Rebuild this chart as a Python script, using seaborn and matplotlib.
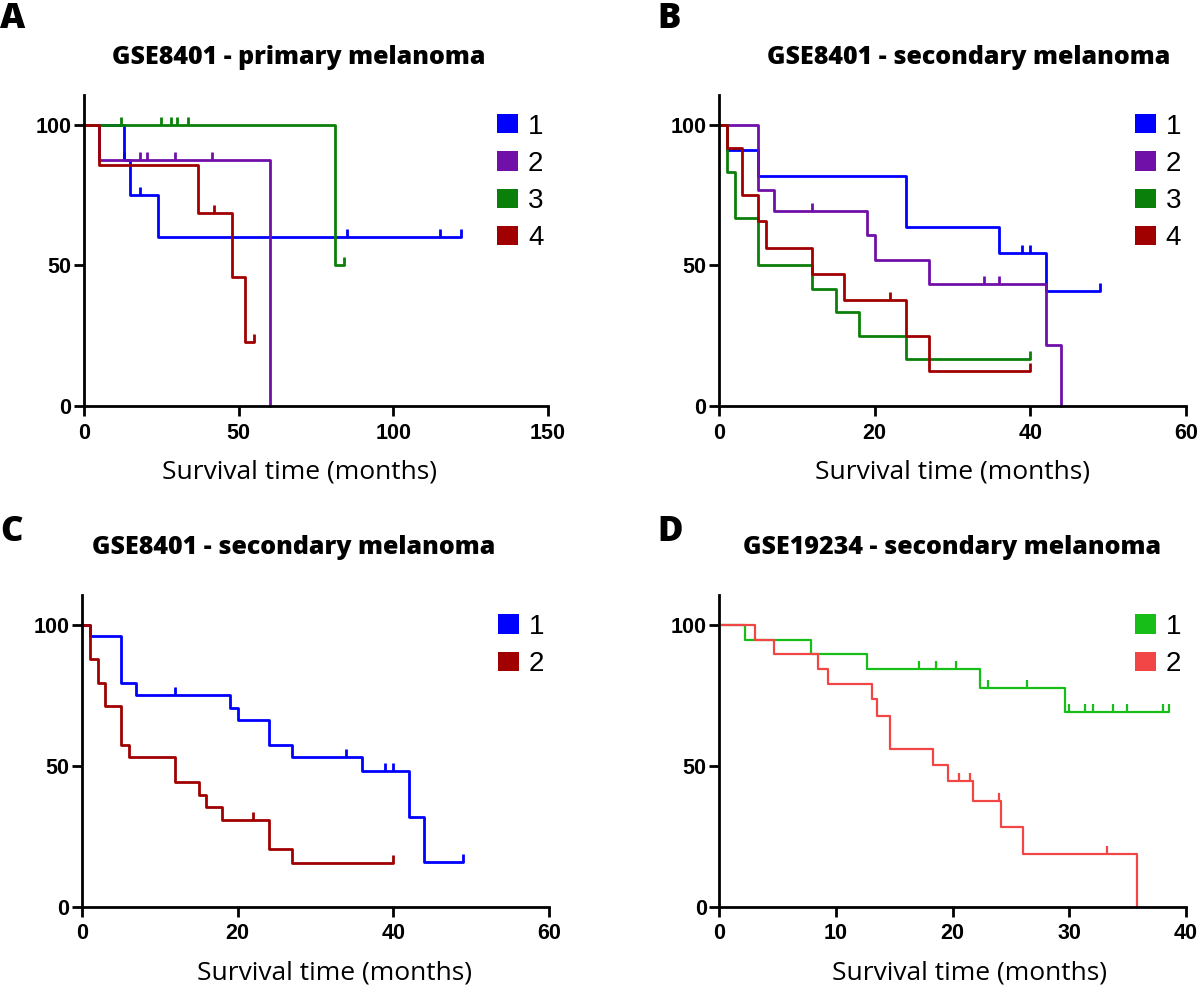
import numpy as np
import seaborn as sns
import matplotlib.pyplot as plt
from matplotlib.patches import Patch
from matplotlib.path import Path


# panel A - GSE8401 primary melanoma
a1_t = [0, 13, 15, 24, 122]
a1_s = [100, 87.5, 75, 60, 60]
a1_c = [13, 18, 85, 115, 122]
a2_t = [0, 5, 60]
a2_s = [100, 87.5, 0]
a2_c = [5, 18, 20.5, 29.5, 41.5]
a3_t = [0, 81, 84]
a3_s = [100, 50, 50]
a3_c = [12, 25, 28, 30, 33.5, 84]
a4_t = [0, 5, 37, 48, 52, 55]
a4_s = [100, 85.7, 68.6, 45.7, 22.9, 22.9]
a4_c = [42, 55]

# panel B - GSE8401 secondary melanoma, 4 groups
b1_t = [0, 1, 5, 24, 36, 42, 49]
b1_s = [100, 90.9, 81.8, 63.6, 54.5, 40.9, 40.9]
b1_c = [39, 40, 49]
b2_t = [0, 5, 7, 19, 20, 27, 42, 44]
b2_s = [100, 76.9, 69.2, 60.6, 51.9, 43.3, 21.6, 0]
b2_c = [12, 34, 36]
b3_t = [0, 1, 2, 5, 12, 15, 18, 24, 40]
b3_s = [100, 83.3, 66.7, 50, 41.7, 33.3, 25, 16.7, 16.7]
b3_c = [40]
b4_t = [0, 1, 3, 5, 6, 12, 16, 24, 27, 40]
b4_s = [100, 91.7, 75, 65.6, 56.3, 46.9, 37.5, 25, 12.5, 12.5]
b4_c = [22, 40]

# panel C - GSE8401 secondary melanoma, 2 groups
c1_t = [0, 1, 5, 7, 19, 20, 24, 27, 36, 42, 44, 49]
c1_s = [100, 95.8, 79.2, 75, 70.6, 66.2, 57.4, 52.9, 48.1, 31.7, 15.8, 15.8]
c1_c = [12, 34, 39, 40, 49]
c2_t = [0, 1, 2, 3, 5, 6, 12, 15, 16, 18, 24, 27, 40]
c2_s = [100, 87.8, 79.3, 71, 57.4, 52.9, 44.1, 39.7, 35.3, 30.9, 20.6, 15.4, 15.4]
c2_c = [22, 40]

# panel D - GSE19234 secondary melanoma
d1_t = [0, 2.2, 7.9, 12.7, 22.3, 29.6, 38.5]
d1_s = [100, 94.7, 89.5, 84.2, 77.7, 69.1, 69.1]
d1_c = [17.1, 18.6, 20.3, 23.0, 26.4, 30.0, 31.3, 32.0, 33.7, 34.9, 38.0, 38.5]
d2_t = [0, 3.1, 4.7, 8.5, 9.3, 13.1, 13.5, 14.6, 18.3, 19.6, 21.7, 24.1, 26.0, 35.8]
d2_s = [100, 94.7, 89.5, 84.2, 78.9, 73.7, 67.5, 55.8, 50.2, 44.6, 37.5, 28.1, 18.6, 0]
d2_c = [20.5, 21.5, 24.0, 33.2]

groups4 = ["1", "2", "3", "4"]
groups2 = ["1", "2"]
col4 = ["#0000FF", "#7010A8", "#0A800A", "#A00000"]
col_c = ["#0000FF", "#A00000"]
col_d = ["#18BE18", "#F24545"]


sns.set_style("ticks")
plt.rcParams["font.family"] = ["Liberation Sans", "DejaVu Sans"]
plt.rcParams["text.color"] = "black"
plt.rcParams["axes.labelcolor"] = "black"
plt.rcParams["axes.edgecolor"] = "black"
plt.rcParams["xtick.color"] = "black"
plt.rcParams["ytick.color"] = "black"

tick_marker = Path([(0, 0), (0, 1)], [Path.MOVETO, Path.LINETO])

fig = plt.figure(figsize=(12, 10), dpi=100)


def step_value(t, s, x):
    i = np.searchsorted(t, x, side="right") - 1
    return np.array(s)[i]


def panel(rect, curves, names, colors, xmax, xticks, title, title_x, title_y,
          letter, letter_xy, label_x, lw=2.0):
    ax = fig.add_axes(rect)
    for (t, s, c), col in zip(curves, colors):
        sns.lineplot(x=t, y=s, drawstyle="steps-post", color=col,
                     linewidth=lw, estimator=None, sort=False, ax=ax,
                     clip_on=False)
        ax.plot(c, step_value(t, s, c), linestyle="none", marker=tick_marker,
                markersize=11, markeredgewidth=lw, color=col, clip_on=False)
    ax.set_xlim(0, xmax)
    ax.set_ylim(0, 110.5)
    ax.set_xticks(xticks)
    ax.set_yticks([0, 50, 100])
    sns.despine(ax=ax)
    for sp in ["left", "bottom"]:
        ax.spines[sp].set_linewidth(2)
    ax.tick_params(axis="both", length=7, width=2, labelsize=15.5,
                   direction="out")
    ax.tick_params(axis="x", pad=5)
    ax.tick_params(axis="y", pad=2)
    plt.setp(ax.get_xticklabels() + ax.get_yticklabels(), fontweight="bold")
    ax.set_xlabel("Survival time (months)", fontsize=19,
                  family=["Open Sans", "DejaVu Sans"])
    ax.xaxis.set_label_coords(label_x, -0.172)
    ax.set_ylabel("")
    handles = [Patch(facecolor=col, edgecolor="none") for col in colors]
    ax.legend(handles, names, loc="upper right", bbox_to_anchor=(0.99, 0.94),
              frameon=False, fontsize=20, handlelength=0.75, handleheight=0.68,
              handletextpad=0.35, labelspacing=0.4, borderpad=0,
              borderaxespad=0)
    fig.text(title_x, title_y, title, ha="center", va="center", fontsize=18,
             fontweight=800, family=["Open Sans", "DejaVu Sans"])
    fig.text(letter_xy[0], letter_xy[1], letter, ha="left", va="top",
             fontsize=25, fontweight=800, family=["Open Sans", "DejaVu Sans"])
    return ax


panel([0.070, 0.594, 0.3867, 0.311],
      [(a1_t, a1_s, a1_c), (a2_t, a2_s, a2_c), (a3_t, a3_s, a3_c), (a4_t, a4_s, a4_c)],
      groups4, col4, 150, [0, 50, 100, 150],
      "GSE8401 - primary melanoma", 299 / 1200, 0.943, "A", (0.0, 0.999),
      0.465)

panel([0.5992, 0.594, 0.389, 0.311],
      [(b1_t, b1_s, b1_c), (b2_t, b2_s, b2_c), (b3_t, b3_s, b3_c), (b4_t, b4_s, b4_c)],
      groups4, col4, 60, [0, 20, 40, 60],
      "GSE8401 - secondary melanoma", 969 / 1200, 0.943, "B", (0.548, 0.999),
      0.5)

panel([0.0683, 0.0933, 0.389, 0.3117],
      [(c1_t, c1_s, c1_c), (c2_t, c2_s, c2_c)],
      groups2, col_c, 60, [0, 20, 40, 60],
      "GSE8401 - secondary melanoma", 294 / 1200, 0.452, "C", (0.0, 0.486),
      0.54)

panel([0.5994, 0.0933, 0.389, 0.3117],
      [(d1_t, d1_s, d1_c), (d2_t, d2_s, d2_c)],
      groups2, col_d, 40, [0, 10, 20, 30, 40],
      "GSE19234 - secondary melanoma", 952 / 1200, 0.452, "D", (0.548, 0.486),
      0.537, lw=1.6)

fig.savefig("out.png", dpi=100)
